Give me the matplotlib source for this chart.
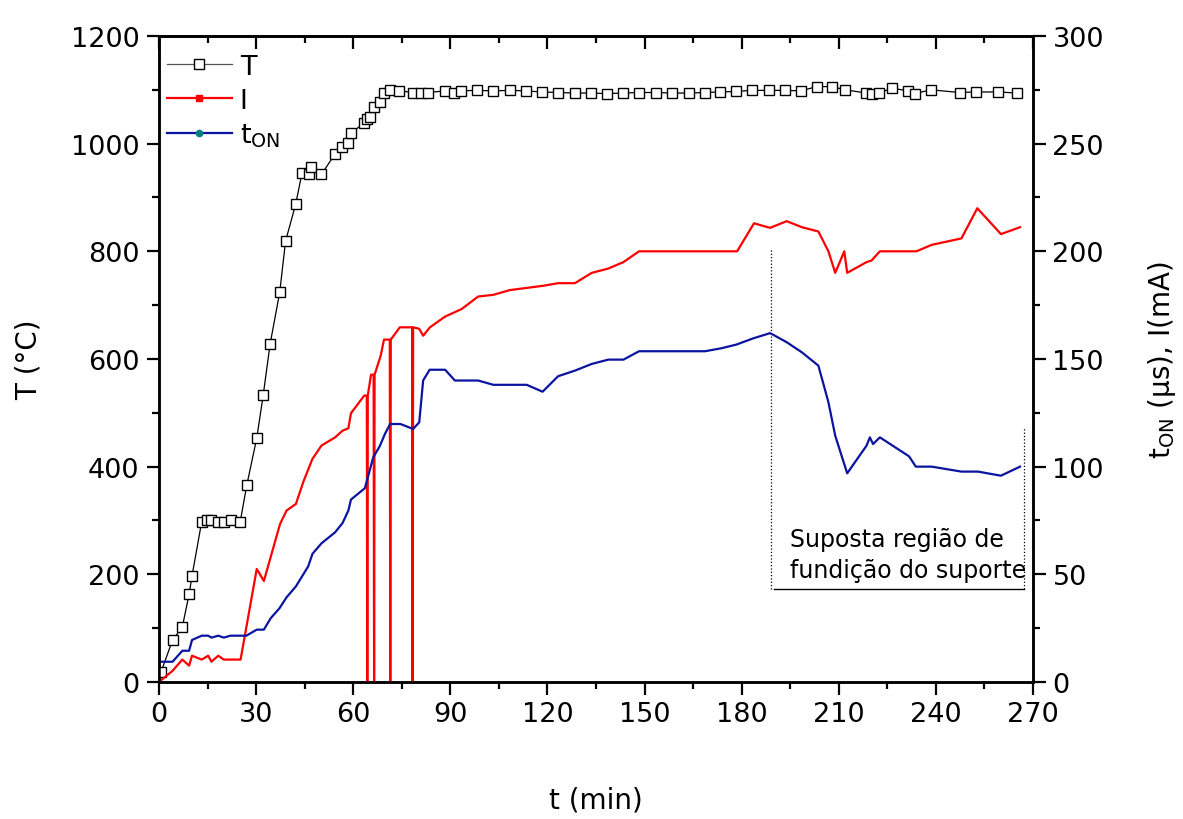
import numpy as np
import matplotlib.pyplot as plt
from matplotlib.ticker import MultipleLocator

# ---------------------------------------------------------------
# data
# temperature T (left axis)
t_T = [0.6, 4.2, 7.2, 9.3, 10.2, 13.2, 14.9, 16.1, 18.1, 20.1,
       22.1, 25.1, 27.1, 30.2, 32.2, 34.3, 37.3, 39.1, 42.2, 44.2,
       46.3, 47.1, 50.2, 54.4, 56.4, 58.4, 59.3, 63.2, 64.2, 65.3,
       66.3, 68.2, 69.5, 71.3, 74.2, 78.6, 80.9, 83.0, 88.4, 91.2,
       93.2, 98.1, 103.3, 108.5, 113.4, 118.2, 123.4, 128.4, 133.5, 138.3,
       143.3, 148.3, 153.5, 158.4, 163.6, 168.6, 173.4, 178.3, 183.3, 188.3,
       193.5, 198.3, 203.2, 207.8, 212.0, 218.5, 220.3, 222.4, 226.5, 231.4,
       233.4, 238.5, 247.3, 252.5, 259.2, 265.2]
T = [18, 78, 102, 163, 197, 298, 300, 301, 298, 298,
     300, 298, 365, 453, 533, 627, 724, 819, 887, 946,
     944, 956, 943, 981, 993, 1002, 1019, 1038, 1046, 1050,
     1069, 1078, 1094, 1099, 1098, 1095, 1095, 1095, 1098, 1095,
     1098, 1099, 1098, 1099, 1098, 1096, 1095, 1094, 1094, 1093,
     1094, 1095, 1095, 1094, 1094, 1095, 1096, 1097, 1099, 1099,
     1099, 1098, 1106, 1106, 1100, 1094, 1093, 1094, 1103, 1098,
     1093, 1100, 1095, 1096, 1096, 1094]

# current I (right axis, mA) - drops to zero are in the record
t_I = [0, 4.2, 7.2, 9.3, 10.2, 13.2, 15.2, 16.2, 18.3, 20.0,
       25.2, 30.2, 32.4, 37.4, 39.4, 42.3, 44.6, 47.4, 50.2, 54.4,
       56.7, 58.5, 59.3, 63.4, 64.2, 64.35, 64.5, 65.5, 66.3, 66.45,
       66.6, 68.5, 69.5, 71.3, 71.45, 71.6, 74.4, 78.2, 78.35, 78.5,
       80.4, 81.6, 83.7, 88.4, 93.5, 98.6, 103.3, 108.4, 113.6, 118.7,
       123.3, 128.5, 133.7, 138.8, 143.5, 148.3, 178.6, 183.8, 188.8, 193.9,
       198.6, 203.7, 206.8, 208.9, 211.7, 212.6, 218.6, 220.1, 222.7, 234.0,
       238.7, 247.9, 252.8, 260.1, 266.0]
I = [0, 5.2, 10.4, 7.6, 12.2, 10.4, 12.2, 9.4, 12.2, 10.4,
     10.4, 52.5, 46.9, 73.4, 79.6, 82.7, 93, 103.6, 109.8, 113.6,
     116.7, 117.8, 124.8, 133, 133, 0, 133, 142.7, 142.7, 0,
     142.7, 151.6, 159, 159, 0, 159, 164.7, 164.7, 0, 164.7,
     164, 160.8, 164.7, 169.7, 173.2, 179, 179.8, 182, 183, 184,
     185.2, 185.2, 190, 192, 195, 200, 200, 213, 210.9, 214,
     211.2, 209.2, 200, 190, 200, 190, 195, 195.7, 200, 200,
     203, 206, 220, 208, 211.2]

# pulse on-time t_ON (right axis, us)
t_on_t = [0.6, 4.2, 7.2, 9.3, 10.2, 13.2, 15.2, 16.2, 18.3, 20.0,
          22.1, 27.0, 30.2, 32.4, 34.5, 37.2, 39.4, 42.3, 46.1, 47.4,
          50.2, 54.4, 56.7, 58.5, 59.3, 63.6, 66.2, 68.2, 69.8, 71.4,
          74.6, 78.5, 80.4, 81.6, 83.6, 88.4, 91.4, 98.6, 103.3, 113.6,
          118.5, 123.3, 128.5, 133.7, 138.8, 143.5, 148.3, 168.7, 173.8, 178.4,
          183.6, 188.8, 193.9, 198.6, 203.7, 206.8, 208.9, 212.6, 218.6, 219.6,
          220.6, 222.7, 231.7, 233.8, 238.7, 247.9, 253.0, 260.1, 266.0]
t_on = [9.4, 9.4, 14.5, 14.5, 19.5, 21.5, 21.5, 20.6, 21.5, 20.6,
        21.5, 21.5, 24.3, 24.3, 29.6, 34.2, 39.3, 44.4, 53.7, 59.5,
        64.4, 69.5, 73.8, 79.6, 84.7, 90, 104.4, 109.5, 115.2, 119.8,
        119.8, 117.5, 120.6, 140, 145, 145, 140, 140, 138, 138,
        134.8, 142, 144.6, 147.7, 149.7, 149.7, 153.6, 153.6, 155, 156.7,
        159.6, 162, 157.8, 153.1, 146.9, 129.9, 114.4, 96.9, 109.8, 113.6,
        110.5, 113.6, 104.8, 100, 100, 97.7, 97.7, 95.8, 100]

# annotated region (t in min, T scale)
reg_t0, reg_t1 = 189.1, 267.2
reg_top_left, reg_top_right, reg_bottom = 806, 472, 173
reg_text = "Suposta região de\nfundição do suporte"
#---------------------------------------------------------------

plt.rcParams['font.family'] = ['DejaVu Sans']
fs = 19.5

fig = plt.figure(figsize=(11.83, 8.2), dpi=100)
ax = fig.add_axes([0.1344, 0.1671, 0.7388, 0.7878])
ax2 = ax.twinx()

l_T, = ax.plot(t_T, T, color='black', lw=0.9, marker='s', ms=6.5,
               mfc='white', mec='black', mew=1.0, label='T', zorder=3)
l_I, = ax2.plot(t_I, I, color='#ff0000', lw=1.6, label='I')
l_on, = ax2.plot(t_on_t, t_on, color='#0a14a0', lw=1.6,
                 label=r't$_{\mathregular{ON}}$')

# annotation of the suspected melting region
ax.plot([reg_t0, reg_t0], [reg_bottom, reg_top_left], color='black', lw=0.9, ls=':')
ax.plot([reg_t1, reg_t1], [reg_bottom, reg_top_right], color='black', lw=0.9, ls=':')
ax.plot([reg_t0 + 1, reg_t1], [reg_bottom, reg_bottom], color='black', lw=1.0)
ax.text(reg_t0 + 5.8, reg_bottom + 12, reg_text, fontsize=17, ha='left',
        va='bottom', linespacing=1.38)

ax.set_xlim(0, 270)
ax.set_ylim(0, 1200)
ax2.set_ylim(0, 300)

ax.xaxis.set_major_locator(MultipleLocator(30))
ax.xaxis.set_minor_locator(MultipleLocator(15))
ax.yaxis.set_major_locator(MultipleLocator(200))
ax.yaxis.set_minor_locator(MultipleLocator(100))
ax2.yaxis.set_major_locator(MultipleLocator(50))
ax2.yaxis.set_minor_locator(MultipleLocator(25))

for a in (ax, ax2):
    for s in a.spines.values():
        s.set_linewidth(1.8)
    a.tick_params(which='major', direction='out', length=9, width=1.6,
                  labelsize=fs, pad=5)
    a.tick_params(which='minor', direction='out', length=5, width=1.6)

# inward ticks along the top
top = ax.secondary_xaxis('top')
top.xaxis.set_major_locator(MultipleLocator(30))
top.xaxis.set_minor_locator(MultipleLocator(15))
top.tick_params(which='major', direction='in', length=9, width=1.6, labeltop=False)
top.tick_params(which='minor', direction='in', length=5, width=1.6)
top.spines['top'].set_linewidth(1.8)

ax.set_xlabel('t (min)', fontsize=fs + 0.5, labelpad=42)
ax.set_ylabel('T (°C)', fontsize=fs + 0.5, labelpad=20)
ax2.set_ylabel(r't$_{\mathregular{ON}}$ (μs), I(mA)', fontsize=fs + 0.5, labelpad=30)

leg = ax2.legend(handles=[l_T, l_I, l_on], loc='upper left', frameon=False,
                 bbox_to_anchor=(-0.0114, 1.0),
                 fontsize=fs, handlelength=2.4, handletextpad=0.3,
                 labelspacing=0.3, borderaxespad=0.45, borderpad=0.2)
h_T, h_I, h_on = leg.legend_handles
h_T.set_color('#555555')
h_T.set_markeredgecolor('black')
h_I.set_marker('s')
h_I.set_markersize(4)
h_on.set_marker('o')
h_on.set_markersize(4.5)
h_on.set_markerfacecolor('#008080')
h_on.set_markeredgecolor('#008080')

fig.savefig('out.png', dpi=100)
